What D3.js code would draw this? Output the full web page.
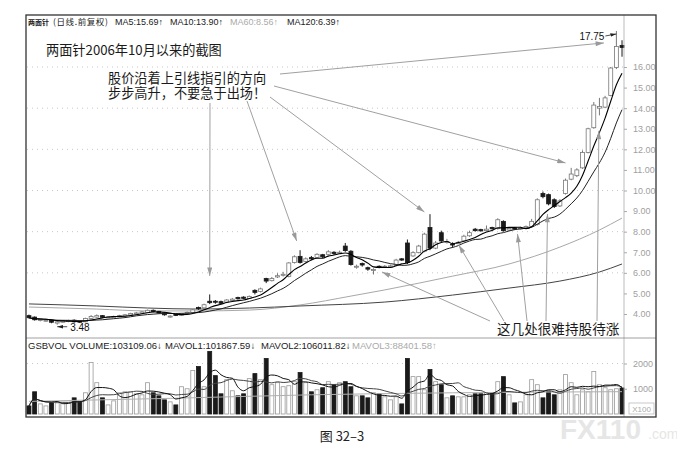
<!DOCTYPE html>
<html lang="zh">
<head>
<meta charset="UTF-8">
<title>两面针 日线</title>
<script src="https://d3js.org/d3.v7.min.js"></script>
<style>
  body { margin: 0; background: #fff; }
  svg { display: block; font-family: "Liberation Sans", Arial, sans-serif; }
  .cn { font-family: "Noto Sans CJK SC", sans-serif; }
  .cn2 { font-family: "Liberation Sans", "Noto Sans CJK SC", sans-serif; }
</style>
</head>
<body>
<svg id="chart" width="677" height="450"></svg>
<script>
// daily candles (106 trading days)
var openP = [
  3.92, 3.85, 3.68, 3.66, 3.70, 3.56, 3.60, 3.63, 3.70, 3.66,
  3.62, 3.78, 3.85, 3.92, 3.83, 3.85, 3.86, 3.90, 3.95, 4.00,
  4.04, 4.08, 4.18, 4.13, 4.06, 3.86, 3.98, 3.94, 4.02, 4.08,
  4.32, 4.30, 4.62, 4.62, 4.60, 4.58, 4.66, 4.80, 4.82, 4.76,
  5.15, 5.10, 5.72, 5.62, 5.80, 5.88, 5.82, 6.50, 6.80, 6.55,
  6.74, 6.75, 6.88, 6.90, 7.00, 6.95, 7.30, 7.05, 6.28, 6.45,
  6.25, 6.12, 6.32, 6.28, 6.30, 6.35, 6.68, 7.45, 6.82, 6.98,
  7.05, 8.20, 7.20, 7.95, 7.48, 7.40, 7.42, 7.55, 7.80, 8.12,
  8.10, 8.05, 8.20, 8.15, 8.50, 8.08, 8.18, 8.14, 8.18, 8.25,
  8.35, 9.85, 9.80, 9.55, 9.25, 9.85, 10.55, 10.72, 11.10, 11.85,
  13.05, 14.00, 14.05, 14.62, 15.98, 17.05
];
var highP = [
  3.97, 3.88, 3.78, 3.74, 3.72, 3.65, 3.70, 3.72, 3.74, 3.68,
  3.82, 3.95, 3.98, 3.95, 3.89, 3.92, 3.96, 4.00, 4.06, 4.10,
  4.14, 4.22, 4.22, 4.15, 4.08, 3.94, 4.00, 4.05, 4.12, 4.24,
  4.36, 4.50, 4.95, 4.68, 4.65, 4.72, 4.78, 4.84, 4.86, 4.90,
  5.20, 5.28, 5.76, 5.80, 5.98, 6.05, 6.52, 6.85, 7.10, 6.75,
  6.82, 6.95, 6.92, 7.10, 7.05, 7.08, 7.45, 7.10, 6.40, 6.50,
  6.30, 6.22, 6.36, 6.38, 6.40, 6.68, 6.72, 7.62, 7.05, 7.36,
  7.95, 8.85, 7.55, 8.05, 7.65, 7.48, 7.55, 7.85, 8.05, 8.18,
  8.14, 8.30, 8.24, 8.65, 8.55, 8.20, 8.22, 8.24, 8.30, 8.62,
  9.62, 9.95, 9.85, 9.62, 9.58, 10.58, 11.10, 11.08, 11.95, 13.05,
  14.30, 14.50, 14.60, 16.00, 17.75, 17.30
];
var lowP = [
  3.78, 3.68, 3.64, 3.62, 3.55, 3.48, 3.58, 3.60, 3.58, 3.56,
  3.60, 3.75, 3.82, 3.80, 3.80, 3.83, 3.84, 3.88, 3.92, 3.97,
  4.00, 4.05, 4.08, 4.02, 3.92, 3.82, 3.90, 3.92, 4.00, 4.06,
  4.20, 4.28, 4.48, 4.50, 4.48, 4.55, 4.63, 4.70, 4.72, 4.74,
  4.95, 5.05, 5.50, 5.58, 5.75, 5.82, 5.78, 6.45, 6.45, 6.50,
  6.62, 6.70, 6.72, 6.85, 6.88, 6.92, 7.02, 6.35, 6.20, 6.30,
  6.10, 5.92, 6.22, 6.25, 6.28, 6.32, 6.58, 6.42, 6.78, 6.95,
  7.00, 7.10, 7.15, 7.50, 7.42, 7.22, 7.38, 7.52, 7.75, 8.00,
  8.00, 8.02, 8.10, 8.10, 8.00, 8.04, 8.08, 8.10, 8.15, 8.22,
  8.30, 9.62, 9.28, 9.15, 9.20, 9.80, 10.50, 10.65, 11.05, 11.80,
  13.00, 13.65, 14.00, 14.58, 15.90, 16.50
];
var closeP = [
  3.82, 3.72, 3.74, 3.70, 3.60, 3.62, 3.66, 3.68, 3.62, 3.60,
  3.78, 3.88, 3.92, 3.84, 3.86, 3.88, 3.92, 3.96, 4.02, 4.05,
  4.10, 4.18, 4.12, 4.05, 3.96, 3.90, 3.93, 4.02, 4.08, 4.20,
  4.26, 4.45, 4.55, 4.58, 4.52, 4.68, 4.72, 4.74, 4.76, 4.85,
  5.05, 5.22, 5.60, 5.72, 5.86, 5.93, 6.48, 6.78, 6.50, 6.68,
  6.68, 6.90, 6.78, 7.02, 6.94, 7.00, 7.08, 6.40, 6.32, 6.38,
  6.18, 6.16, 6.28, 6.32, 6.34, 6.62, 6.62, 6.50, 6.98, 7.30,
  7.88, 7.20, 7.45, 7.55, 7.52, 7.35, 7.48, 7.78, 7.95, 8.05,
  8.04, 8.12, 8.14, 8.58, 8.05, 8.15, 8.12, 8.18, 8.25, 8.50,
  9.55, 9.70, 9.35, 9.22, 9.50, 10.50, 10.80, 11.00, 11.85, 13.00,
  14.15, 14.08, 14.50, 15.95, 17.00, 16.95
];
// volume in hundreds (axis shows x100)
var volume = [
  320, 880, 400, 320, 440, 440, 440, 440, 640, 480,
  840, 2040, 1240, 640, 360, 520, 840, 880, 880, 800,
  760, 1240, 840, 720, 560, 480, 360, 1080, 1000, 1720,
  1880, 1080, 2480, 1520, 800, 1360, 920, 720, 800, 1400,
  1600, 1360, 2200, 1160, 1240, 1080, 1120, 1280, 1640, 1240,
  880, 960, 1040, 1280, 1160, 1240, 1280, 1080, 720, 720,
  640, 840, 800, 680, 560, 680, 400, 2200, 1480, 1480,
  960, 1760, 1280, 1160, 640, 720, 680, 680, 760, 800,
  800, 840, 840, 1280, 1480, 760, 440, 480, 760, 1360,
  1160, 640, 880, 760, 960, 1560, 1240, 760, 960, 880,
  1680, 1160, 1040, 960, 1000, 1031
];
var ma60Idx = [0, 12, 21, 30, 39, 48, 57, 63, 75, 85, 94, 101, 105];
var ma60Val = [4.34, 4.24, 4.15, 4.15, 4.19, 4.44, 4.87, 5.17, 5.84, 6.43, 7.25, 8.08, 8.66];
var ma120Idx = [0, 12, 21, 30, 39, 48, 63, 75, 85, 94, 101, 105];
var ma120Val = [4.49, 4.39, 4.29, 4.24, 4.29, 4.39, 4.58, 4.92, 5.26, 5.60, 6.04, 6.43];
var mavol3Idx = [0, 25, 50, 75, 105];
var mavol3Val = [500, 620, 760, 840, 884];

var priceTicks = [4, 5, 6, 7, 8, 9, 10, 11, 12, 13, 14, 15, 16];
var gridTicks = [6, 8, 10, 12, 14, 16];
var volTicks = [1000, 2000];

var svg = d3.select('#chart');
var axisX = 624, splitY = 338;
var frame = {left: 26, right: 656, top: 15, bottom: 417};
var n = closeP.length;

var x = d3.scaleBand().domain(d3.range(n)).range([27, axisX]).paddingInner(0.3);
var bw = x.bandwidth();
var xc = function(i) { return x(0) + bw / 2 + i * x.step(); };
var y = d3.scaleLinear().domain([4, 16]).range([314, 67]);
var yv = d3.scaleLinear().domain([0, 2000]).range([414, 363.5]);

function movingAvg(arr, k) {
  return arr.map(function(d, i) { return d3.mean(arr.slice(Math.max(0, i - k + 1), i + 1)); });
}
var ma5 = movingAvg(closeP, 5), ma10 = movingAvg(closeP, 10);
var mavol1 = movingAvg(volume, 5), mavol2 = movingAvg(volume, 10);

var defs = svg.append('defs');
defs.append('marker').attr('id', 'arrow')
  .attr('viewBox', '0 0 10 6').attr('refX', 10).attr('refY', 3)
  .attr('markerWidth', 10).attr('markerHeight', 5)
  .attr('markerUnits', 'userSpaceOnUse').attr('orient', 'auto')
  .append('path').attr('d', 'M0,0L10,3L0,6Z').attr('fill', '#9a9a9a');
defs.append('marker').attr('id', 'arrowDark')
  .attr('viewBox', '0 0 10 6').attr('refX', 10).attr('refY', 3)
  .attr('markerWidth', 6).attr('markerHeight', 4)
  .attr('markerUnits', 'userSpaceOnUse').attr('orient', 'auto')
  .append('path').attr('d', 'M0,0L10,3L0,6Z').attr('fill', '#222');

// grid
svg.append('g').selectAll('line').data(gridTicks).enter().append('line')
  .attr('x1', 27).attr('x2', axisX).attr('y1', d => y(d)).attr('y2', d => y(d))
  .attr('stroke', '#c8c8c8').attr('stroke-dasharray', '1,4');
svg.append('line').attr('x1', 27).attr('x2', axisX).attr('y1', yv(2000)).attr('y2', yv(2000))
  .attr('stroke', '#c8c8c8').attr('stroke-dasharray', '1,4');

// long moving averages
var sampled = d3.line().x(d => xc(d[0])).y(d => y(d[1])).curve(d3.curveMonotoneX);
svg.append('path').datum(d3.zip(ma60Idx, ma60Val)).attr('d', sampled)
  .attr('fill', 'none').attr('stroke', '#a8a8a8').attr('stroke-width', 1);
svg.append('path').datum(d3.zip(ma120Idx, ma120Val)).attr('d', sampled)
  .attr('fill', 'none').attr('stroke', '#444').attr('stroke-width', 1);

// candles
var up = function(i) { return closeP[i] >= openP[i]; };
var candles = svg.append('g').selectAll('g').data(d3.range(n)).enter().append('g');
candles.append('line')
  .attr('x1', i => xc(i)).attr('x2', i => xc(i))
  .attr('y1', i => y(highP[i])).attr('y2', i => y(lowP[i]))
  .attr('stroke', i => up(i) ? '#777' : '#1a1a1a').attr('stroke-width', 1);
candles.append('rect')
  .attr('x', i => x(i)).attr('width', bw)
  .attr('y', i => y(Math.max(openP[i], closeP[i])))
  .attr('height', i => Math.max(1, Math.abs(y(openP[i]) - y(closeP[i]))))
  .attr('fill', i => up(i) ? '#fff' : '#1a1a1a')
  .attr('stroke', i => up(i) ? '#777' : '#1a1a1a').attr('stroke-width', 0.8);

// short moving averages
var line = d3.line().x((d, i) => xc(i)).y(d => y(d)).curve(d3.curveMonotoneX);
svg.append('path').datum(ma10).attr('d', line).attr('fill', 'none').attr('stroke', '#222').attr('stroke-width', 1);
svg.append('path').datum(ma5).attr('d', line).attr('fill', 'none').attr('stroke', '#000').attr('stroke-width', 1.1);

// volume bars
svg.append('g').selectAll('rect').data(d3.range(n)).enter().append('rect')
  .attr('x', i => x(i)).attr('width', bw)
  .attr('y', i => yv(volume[i])).attr('height', i => yv(0) - yv(volume[i]))
  .attr('fill', i => up(i) ? '#fff' : '#1a1a1a')
  .attr('stroke', i => up(i) ? '#999' : '#1a1a1a').attr('stroke-width', 0.8);

var vline = d3.line().x((d, i) => xc(i)).y(d => yv(d)).curve(d3.curveMonotoneX);
svg.append('path').datum(d3.zip(mavol3Idx, mavol3Val))
  .attr('d', d3.line().x(d => xc(d[0])).y(d => yv(d[1])).curve(d3.curveMonotoneX))
  .attr('fill', 'none').attr('stroke', '#b0b0b0').attr('stroke-width', 1);
svg.append('path').datum(mavol2).attr('d', vline).attr('fill', 'none').attr('stroke', '#444').attr('stroke-width', 1);
svg.append('path').datum(mavol1).attr('d', vline).attr('fill', 'none').attr('stroke', '#111').attr('stroke-width', 1);

// axes
var yAxis = d3.axisRight(y).tickValues(priceTicks).tickSize(3).tickPadding(6).tickFormat(d3.format('.2f'));
var gy = svg.append('g').attr('transform', 'translate(' + axisX + ',0)').call(yAxis);
var vAxis = d3.axisRight(yv).tickValues(volTicks).tickSize(3).tickPadding(6).tickFormat(d3.format('d'));
var gv = svg.append('g').attr('transform', 'translate(' + axisX + ',0)').call(vAxis);
[gy, gv].forEach(function(g) {
  g.select('.domain').remove();
  g.selectAll('line').attr('stroke', '#aaa');
  g.selectAll('text').attr('fill', '#a0a0a0').attr('font-size', 9).attr('font-family', 'Liberation Sans');
});
svg.append('rect').attr('x', 629).attr('y', 403).attr('width', 25).attr('height', 11)
  .attr('fill', 'none').attr('stroke', '#bbb').attr('stroke-width', 0.8);
svg.append('text').attr('x', 641.5).attr('y', 411.5).attr('text-anchor', 'middle')
  .attr('font-size', 8).attr('fill', '#aaa').text('X100');

// frame
svg.append('line').attr('x1', axisX).attr('x2', axisX).attr('y1', frame.top).attr('y2', frame.bottom)
  .attr('stroke', '#aaa').attr('stroke-width', 0.8);
svg.append('line').attr('x1', frame.left).attr('x2', frame.right).attr('y1', splitY).attr('y2', splitY)
  .attr('stroke', '#888').attr('stroke-width', 0.8);
svg.append('rect').attr('x', frame.left).attr('y', frame.top)
  .attr('width', frame.right - frame.left).attr('height', frame.bottom - frame.top)
  .attr('fill', 'none').attr('stroke', '#333').attr('stroke-width', 1.3);

// headers
var head = svg.append('text').attr('y', 25).attr('font-size', 9).attr('fill', '#222');
head.append('tspan').attr('x', 28).attr('class', 'cn').attr('font-size', 7).attr('font-weight', 'bold').text('两面针');
head.append('tspan').attr('x', 53).attr('class', 'cn').attr('font-size', 8.5).attr('letter-spacing', 0.6).text('(日线.前复权)');
head.append('tspan').attr('x', 115).text('MA5:15.69↑');
head.append('tspan').attr('x', 170).text('MA10:13.90↑');
head.append('tspan').attr('x', 230).attr('fill', '#aaa').text('MA60:8.56↑');
head.append('tspan').attr('x', 287).text('MA120:6.39↑');

var vhead = svg.append('text').attr('y', 349).attr('font-size', 9.5).attr('fill', '#222');
vhead.append('tspan').attr('x', 28).text('GSBVOL VOLUME:103109.06↓');
vhead.append('tspan').attr('x', 165).text('MAVOL1:101867.59↓');
vhead.append('tspan').attr('x', 261).text('MAVOL2:106011.82↓');
vhead.append('tspan').attr('x', 352).attr('fill', '#aaa').text('MAVOL3:88401.58↑');

// annotations
var ann = svg.append('g').attr('class', 'cn').attr('fill', '#1a1a1a');
ann.append('text').attr('x', 46).attr('y', 55).attr('font-size', 13.2).text('两面针2006年10月以来的截图');
ann.append('text').attr('class', 'cn2').attr('x', 108).attr('y', 82.5).attr('font-size', 13.2).text('股价沿着上引线指引的方向');
ann.append('text').attr('class', 'cn2').attr('x', 108).attr('y', 98).attr('font-size', 13.2).text('步步高升，不要急于出场！');
ann.append('text').attr('x', 497).attr('y', 334).attr('font-size', 13.6).text('这几处很难持股待涨');

// arrows: start at the text, end at a candle (index, price)
var upArrows = [
  {sx: 210, sy: 103, i: 32, p: 5.85},
  {sx: 247, sy: 101, i: 47.4, p: 7.55},
  {sx: 270, sy: 97, i: 70, p: 8.96},
  {sx: 274, sy: 86, i: 95, p: 11.34},
  {sx: 280, sy: 74, i: 101.8, p: 17.17}
];
var downArrows = [
  {sx: 490, sy: 321, i: 62.5, p: 6.04},
  {sx: 504, sy: 321, i: 76.1, p: 7.35},
  {sx: 527, sy: 321, i: 86.5, p: 7.89},
  {sx: 546, sy: 321, i: 91.8, p: 8.86},
  {sx: 597, sy: 321, i: 100.9, p: 12.9}
];
svg.append('g').selectAll('line').data(upArrows.concat(downArrows)).enter().append('line')
  .attr('x1', d => d.sx).attr('y1', d => d.sy)
  .attr('x2', d => xc(d.i)).attr('y2', d => y(d.p))
  .attr('stroke', '#a0a0a0').attr('stroke-width', 1).attr('marker-end', 'url(#arrow)');

// high and low labels
var hiI = 104, loI = 5;
svg.append('text').attr('x', xc(hiI) - 37).attr('y', y(highP[hiI]) + 9)
  .attr('font-size', 10).attr('fill', '#111').text('17.75');
svg.append('line').attr('x1', xc(hiI) - 11).attr('y1', y(highP[hiI]) + 5)
  .attr('x2', xc(hiI)).attr('y2', y(highP[hiI]) + 3)
  .attr('stroke', '#222').attr('stroke-width', 0.8).attr('marker-end', 'url(#arrowDark)');
svg.append('line').attr('x1', xc(loI) + 10).attr('y1', y(lowP[loI]) + 2)
  .attr('x2', xc(loI)).attr('y2', y(lowP[loI]) + 2)
  .attr('stroke', '#222').attr('stroke-width', 0.8).attr('marker-end', 'url(#arrowDark)');
svg.append('text').attr('x', xc(loI) + 13).attr('y', y(lowP[loI]) + 6)
  .attr('font-size', 10).attr('fill', '#111').text('3.48');

// caption and watermark
svg.append('text').attr('x', 342).attr('y', 441).attr('text-anchor', 'middle')
  .attr('font-size', 13).attr('fill', '#222').attr('class', 'cn').text('图 32–3');
svg.append('text').attr('x', 560).attr('y', 439).attr('font-size', 28).attr('font-weight', 'bold')
  .attr('fill', '#e6e6e6').text('FX110');
svg.append('text').attr('x', 648).attr('y', 439).attr('font-size', 14)
  .attr('fill', '#e6e6e6').text('.com');
</script>
</body>
</html>
